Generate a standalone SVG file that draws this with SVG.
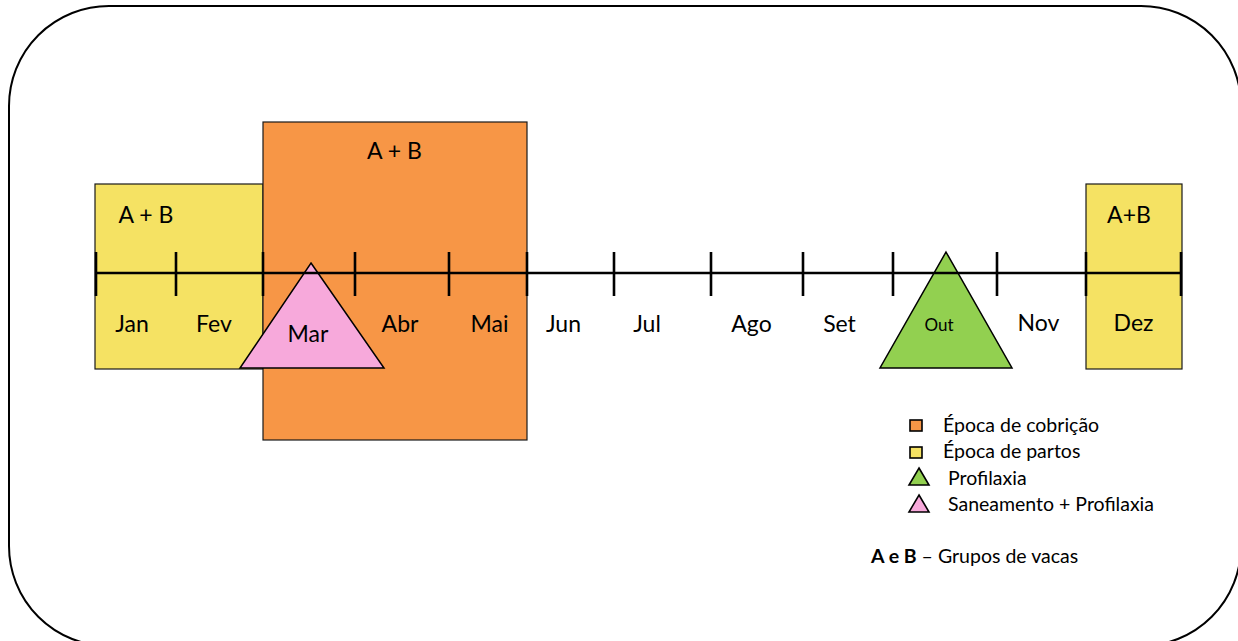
<svg xmlns="http://www.w3.org/2000/svg" width="1238" height="641" viewBox="0 0 1238 641">
  <style>
    .frame { fill: #ffffff; stroke: #000000; stroke-width: 2; }
    .box { stroke: #1a1a1a; stroke-width: 1.2; }
    .orange { fill: #F79646; }
    .yellow { fill: #F5E263; }
    .pink { fill: #F7A9DB; }
    .green { fill: #92D050; }
    .tri { stroke: #000000; stroke-width: 1.5; stroke-linejoin: miter; }
    .axis { stroke: #000000; stroke-width: 2.6; fill: none; }
    .lbl { font-family: Lato, "Open Sans", "Liberation Sans", sans-serif; font-size: 23px; fill: #000000; text-anchor: middle; }
    .small { font-size: 17px; }
    .leg { font-family: Lato, "Open Sans", "Liberation Sans", sans-serif; font-size: 19.5px; fill: #000000; }
    .legmark { stroke: #000000; stroke-width: 1.6; }
  </style>

  <!-- outer rounded frame -->
  <rect class="frame" x="9" y="6" width="1232" height="640" rx="100" ry="100"/>

  <!-- calving season: Jan-Fev -->
  <g id="partos-jan-fev">
    <rect class="box yellow" x="95" y="184" width="168" height="185"/>
    <text class="lbl" x="146" y="223">A + B</text>
  </g>

  <!-- breeding season: Mar-Mai -->
  <g id="cobricao-mar-mai">
    <rect class="box orange" x="263" y="122" width="264" height="318"/>
    <text class="lbl" x="394.5" y="159">A + B</text>
  </g>

  <!-- calving season: Dez -->
  <g id="partos-dez">
    <rect class="box yellow" x="1086" y="184" width="96" height="185"/>
    <text class="lbl" x="1129" y="223">A+B</text>
  </g>

  <!-- sanitation + prophylaxis in March -->
  <g id="saneamento-mar">
    <polygon class="tri pink" points="311,263 384,368 240,368"/>
  </g>

  <!-- prophylaxis in October -->
  <g id="profilaxia-out">
    <polygon class="tri green" points="946,252 1012,368 880,368"/>
  </g>

  <!-- month axis with tick marks -->
  <g id="timeline">
    <line class="axis" x1="95" y1="273" x2="1182" y2="273"/>
    <path class="axis" d="M96,252V296 M176,252V296 M263,252V296 M355,252V296 M449,252V296 M527,252V296 M614,252V296 M711,252V296 M803,252V296 M893,252V296 M997,252V296 M1086,252V296 M1181,252V296"/>
  </g>

  <!-- month labels -->
  <g id="months">
    <text class="lbl" x="132" y="332">Jan</text>
    <text class="lbl" x="214" y="332">Fev</text>
    <text class="lbl" x="308" y="342">Mar</text>
    <text class="lbl" x="400" y="332">Abr</text>
    <text class="lbl" x="489.5" y="332">Mai</text>
    <text class="lbl" x="563.5" y="332">Jun</text>
    <text class="lbl" x="647" y="332">Jul</text>
    <text class="lbl" x="751.5" y="332">Ago</text>
    <text class="lbl" x="839.5" y="332">Set</text>
    <text class="lbl small" x="939" y="331">Out</text>
    <text class="lbl" x="1038.5" y="331">Nov</text>
    <text class="lbl" x="1133.5" y="331">Dez</text>
  </g>

  <!-- legend -->
  <g id="legend">
    <rect class="legmark orange" x="910" y="420" width="12" height="11"/>
    <text class="leg" x="943" y="432">Época de cobrição</text>
    <rect class="legmark yellow" x="910" y="447" width="12" height="11"/>
    <text class="leg" x="943" y="458">Época de partos</text>
    <polygon class="legmark green" points="919,468 929,485 909,485"/>
    <text class="leg" x="948" y="485">Profilaxia</text>
    <polygon class="legmark pink" points="919,495 929,512 909,512"/>
    <text class="leg" x="948" y="511">Saneamento + Profilaxia</text>
    <text class="leg" x="871" y="563"><tspan font-weight="bold">A e B</tspan> – Grupos de vacas</text>
  </g>
</svg>
